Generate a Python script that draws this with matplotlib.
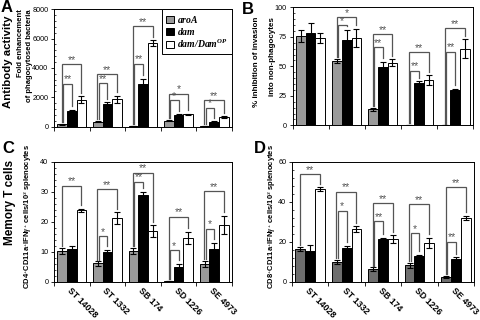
import matplotlib
matplotlib.use('Agg')
import matplotlib.pyplot as plt
from matplotlib.ticker import MultipleLocator, AutoMinorLocator, FixedLocator
import numpy as np

plt.rcParams['font.family'] = ['Liberation Sans', 'DejaVu Sans']
plt.rcParams['mathtext.fontset'] = 'custom'
plt.rcParams['mathtext.it'] = 'Liberation Serif:italic:bold'
plt.rcParams['mathtext.rm'] = 'Liberation Serif:italic:bold'

strains = ['ST 14028', 'ST 1332', 'SB 174', 'SD 1226', 'SE 4973']
series = ['aroA', 'dam', 'dam/DamOP']

# panel A: fold enhancement of phagocytosed bacteria
a_aroA = [140, 320, 25, 390, 20]
a_dam = [1050, 1510, 2930, 780, 320]
a_damop = [1830, 1850, 5710, 820, 660]
a_aroA_err = [20, 40, 10, 40, 10]
a_dam_err = [80, 150, 340, 40, 30]
a_damop_err = [230, 240, 190, 60, 50]

# panel B: % inhibition of invasion
b_aroA = [76, 54.5, 13.5, 0.5, 0]
b_dam = [78, 72, 49, 36, 30]
b_damop = [74, 74, 53, 38.5, 65]
b_aroA_err = [5, 1.5, 1, 0, 0]
b_dam_err = [8.5, 9, 5, 1.5, 1]
b_damop_err = [4.5, 8, 3, 4, 8]

# panel C: CD4 memory T cells
c_aroA = [10.3, 6.1, 10.3, 0.3, 6.0]
c_dam = [10.9, 9.8, 29.0, 5.0, 11.0]
c_damop = [23.9, 21.1, 16.8, 14.6, 19.0]
c_aroA_err = [1.0, 0.7, 1.0, 0.0, 1.0]
c_dam_err = [1.0, 0.9, 1.0, 1.0, 2.0]
c_damop_err = [0.5, 2.0, 2.0, 2.0, 3.0]

# panel D: CD8 memory T cells
d_aroA = [16.3, 10.0, 6.2, 8.3, 2.5]
d_dam = [15.3, 16.7, 21.3, 12.8, 11.3]
d_damop = [46.3, 26.2, 21.2, 19.5, 32.0]
d_aroA_err = [1.0, 1.0, 1.0, 1.3, 0.5]
d_dam_err = [3.0, 1.3, 0.7, 0.8, 1.0]
d_damop_err = [1.0, 1.5, 2.0, 2.5, 1.0]

# significance brackets: (group, compared bar 1=dam 2=dam/DamOP, height, stars)
a_sig = [(0, 1, 2930, '**'), (0, 2, 4250, '**'), (1, 1, 2970, '**'), (1, 2, 3570, '**'),
         (2, 1, 4300, '**'), (2, 2, 6860, '**'), (3, 1, 1780, '*'), (3, 2, 2250, '*'),
         (4, 1, 1280, '*'), (4, 2, 1780, '**')]
b_sig = [(1, 1, 85, '*'), (1, 2, 91.5, '*'), (2, 1, 66, '**'), (2, 2, 77, '**'),
         (3, 1, 46.3, '**'), (3, 2, 62, '**'), (4, 1, 62.4, '**'), (4, 2, 82.2, '**')]
c_sig = [(0, 2, 32, '**'), (1, 1, 15.2, '*'), (1, 2, 30.8, '**'), (2, 1, 33.3, '**'),
         (2, 2, 36.3, '**'), (3, 1, 10.6, '*'), (3, 2, 21.7, '**'), (4, 1, 17.7, '*'),
         (4, 2, 30.1, '**')]
d_sig = [(0, 2, 53.8, '**'), (1, 1, 35.5, '*'), (1, 2, 45, '**'), (2, 1, 30.2, '**'),
         (2, 2, 39.2, '**'), (3, 1, 24.2, '*'), (3, 2, 38.8, '**'), (4, 1, 20, '**'),
         (4, 2, 47.2, '**')]

W = 0.27


def draw_panel(ax, vals, errs, sig, ymax, ystep, gray, labels=False):
    x = np.arange(5) + 0.5
    colors = [gray, 'black', 'white']
    for k in range(3):
        ax.bar(x + (k - 1) * W, vals[k], W, yerr=errs[k], color=colors[k],
               edgecolor='black', linewidth=0.7, label=series[k],
               error_kw=dict(ecolor='black', elinewidth=0.8, capsize=2.2, capthick=0.8))
    pad = ymax * 0.015
    for g, k, h, s in sig:
        xl = x[g] - W + (0.03 if k == 1 else -0.01)
        xr = x[g] + (k - 1) * W
        yl = vals[0][g] + errs[0][g] + pad
        yr = vals[k][g] + errs[k][g] + pad * 2
        ax.plot([xl, xl, xr, xr], [yl, h, h, yr], color='#555555', lw=0.9,
                solid_joinstyle='miter')
        ax.text((xl + xr) / 2, h - pad * 0.4, s, ha='center', va='bottom',
                fontsize=7.5, color='#555555')
    ax.set_xlim(0, 5)
    ax.set_ylim(0, ymax)
    ax.yaxis.set_major_locator(MultipleLocator(ystep))
    ax.yaxis.set_minor_locator(AutoMinorLocator(5))
    ax.tick_params(axis='y', which='major', labelsize=5.2, length=2.5, width=0.6, pad=1.5)
    ax.tick_params(axis='y', which='minor', length=1.5, width=0.5, direction='in')
    ax.xaxis.set_major_locator(FixedLocator(x))
    ax.xaxis.set_minor_locator(FixedLocator(np.arange(6)))
    ax.tick_params(axis='x', which='major', length=0)
    ax.tick_params(axis='x', which='minor', length=3, width=0.6)
    if labels:
        ax.set_xticklabels(strains, rotation=-45, ha='left', va='top',
                           rotation_mode='anchor', fontsize=6.4, fontweight='bold')
        ax.tick_params(axis='x', which='major', pad=3)
    else:
        ax.set_xticklabels([])
    for sp in ax.spines.values():
        sp.set_linewidth(0.7)


fig = plt.figure(figsize=(4.8, 3.2), dpi=100)


def px(l, r, t, b):
    return [l / 480, 1 - b / 320, (r - l) / 480, (b - t) / 320]


axA = fig.add_axes(px(54, 232, 9.3, 126.5))
axB = fig.add_axes(px(292.5, 473, 7.3, 125.3))
axC = fig.add_axes(px(54, 232, 161.7, 281.7))
axD = fig.add_axes(px(292, 474, 161.7, 281.7))

draw_panel(axA, [a_aroA, a_dam, a_damop], [a_aroA_err, a_dam_err, a_damop_err],
           a_sig, 8000, 2000, '#9a9a9a')
draw_panel(axB, [b_aroA, b_dam, b_damop], [b_aroA_err, b_dam_err, b_damop_err],
           b_sig, 100, 25, '#9a9a9a')
draw_panel(axC, [c_aroA, c_dam, c_damop], [c_aroA_err, c_dam_err, c_damop_err],
           c_sig, 40, 10, '#9a9a9a', labels=True)
draw_panel(axD, [d_aroA, d_dam, d_damop], [d_aroA_err, d_dam_err, d_damop_err],
           d_sig, 60, 20, '#6e6e6e', labels=True)

handles, _ = axA.get_legend_handles_labels()
leg = axA.legend(handles, ['$aroA$', '$dam$', '$dam/Dam^{OP}$'], loc='upper right',
                 borderaxespad=0, fontsize=7, handlelength=0.8, handleheight=0.8,
                 handletextpad=0.3, labelspacing=0.1, borderpad=0.45,
                 fancybox=False, framealpha=1, edgecolor='black')
leg.get_frame().set_linewidth(0.7)

# y labels
def ftext(x, y, s, size, **kw):
    fig.text(x / 480, 1 - y / 320, s, rotation=90, ha='center', va='top',
             fontsize=size, fontweight='bold', **kw)


ftext(8, 15, 'Antibody activity', 8.2)
ftext(21, 9, 'Fold enhancement', 5.5)
ftext(29.5, 9, 'of phagocytosed bacteria', 5.5)
ftext(257, 17, '% inhibition of invasion', 5.8)
ftext(272, 17, 'into non-phagocytes', 5.8)
ftext(10, 160, 'Memory T cells', 8.5)
ftext(27, 144, r'CD4$^{+}$CD11a$^{+}$IFN$\gamma^{+}$ cells/10$^{3}$ splenocytes', 5.5)
ftext(272, 144, r'CD8$^{+}$CD11a$^{+}$IFN$\gamma^{+}$ cells/10$^{3}$ splenocytes', 5.5)

for s, x, y in [('A', 1, 0), ('B', 242, 2), ('C', 2, 141), ('D', 254, 141)]:
    fig.text(x / 480, 1 - y / 320, s, fontsize=12, fontweight='bold', va='top', ha='left')

fig.savefig('out.png', dpi=100)
